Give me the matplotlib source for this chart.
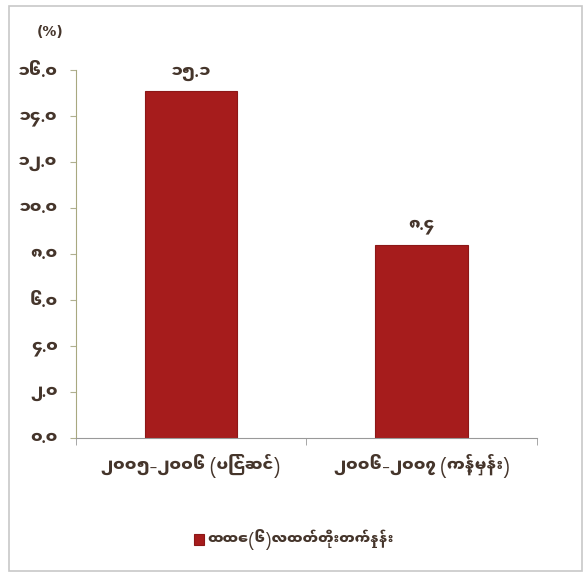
import matplotlib
matplotlib.use('Agg')
import matplotlib.pyplot as plt
from matplotlib.patches import Rectangle
from matplotlib.ticker import FixedLocator, FuncFormatter

# growth rate by fiscal year (percent)
periods = ['၂၀၀၅-၂၀၀၆ (ပြင်ဆင်)', '၂၀၀၆-၂၀၀၇ (ကန့်မှန်း)']
growth = [15.1, 8.4]
yticks = [0, 2, 4, 6, 8, 10, 12, 14, 16]
series_name = 'ထထေ(၆)လထတ်တိုးတက်နှုန်း'

MM_DIGITS = str.maketrans('0123456789', '၀၁၂၃၄၅၆၇၈၉')


def mm(v):
    return f'{v:.1f}'.translate(MM_DIGITS)


plt.rcParams['font.family'] = ['Noto Sans Myanmar UI', 'Padauk', 'DejaVu Sans']
text_col = '#45352b'
bar_col = '#a61c1c'
fw = 'black'

fig = plt.figure(figsize=(5.88, 5.76), dpi=100)
fig.patches.append(Rectangle((0.015, 0.008), 0.975, 0.982, transform=fig.transFigure,
                             fill=False, edgecolor='#c8c8c8', linewidth=1.2))

ax = fig.add_axes([0.129, 0.240, 0.784, 0.638])
x = range(len(growth))
bars = ax.bar(x, growth, width=0.4, color=bar_col, edgecolor='#8c1717', linewidth=0.8)
for b, v in zip(bars, growth):
    ax.text(b.get_x() + b.get_width() / 2, v + 0.45, mm(v), ha='center', va='bottom',
            fontsize=11.5, fontweight=fw, color=text_col)

ax.set_xlim(-0.5, len(growth) - 0.5)
ax.set_ylim(0, 16)
ax.yaxis.set_major_locator(FixedLocator(yticks))
ax.yaxis.set_major_formatter(FuncFormatter(lambda v, p: mm(v)))
ax.set_xticks(list(x))
ax.set_xticklabels(periods)
ax.xaxis.set_minor_locator(FixedLocator([-0.5, 0.5, 1.5]))
ax.tick_params(axis='x', which='major', length=0, pad=12)
ax.tick_params(axis='x', which='minor', length=5, color='#999999')
ax.tick_params(axis='y', length=4, color='#b0b090', pad=9)
for lab in ax.get_xticklabels() + ax.get_yticklabels():
    lab.set_fontsize(11.5)
    lab.set_fontweight(fw)
    lab.set_color(text_col)

for s in ('top', 'right'):
    ax.spines[s].set_visible(False)
ax.spines['left'].set_color('#a8a880')
ax.spines['bottom'].set_color('#999999')

fig.text(0.062, 0.945, '(%)', fontsize=10, fontweight='bold', color=text_col,
         family='DejaVu Sans', va='center')

fig.legend([bars[0]], [series_name], loc='center', bbox_to_anchor=(0.5, 0.063),
           frameon=False, handlelength=0.7, handleheight=0.9, handletextpad=0.3,
           prop={'size': 10, 'weight': fw}, labelcolor=text_col)

fig.savefig('out.png')
